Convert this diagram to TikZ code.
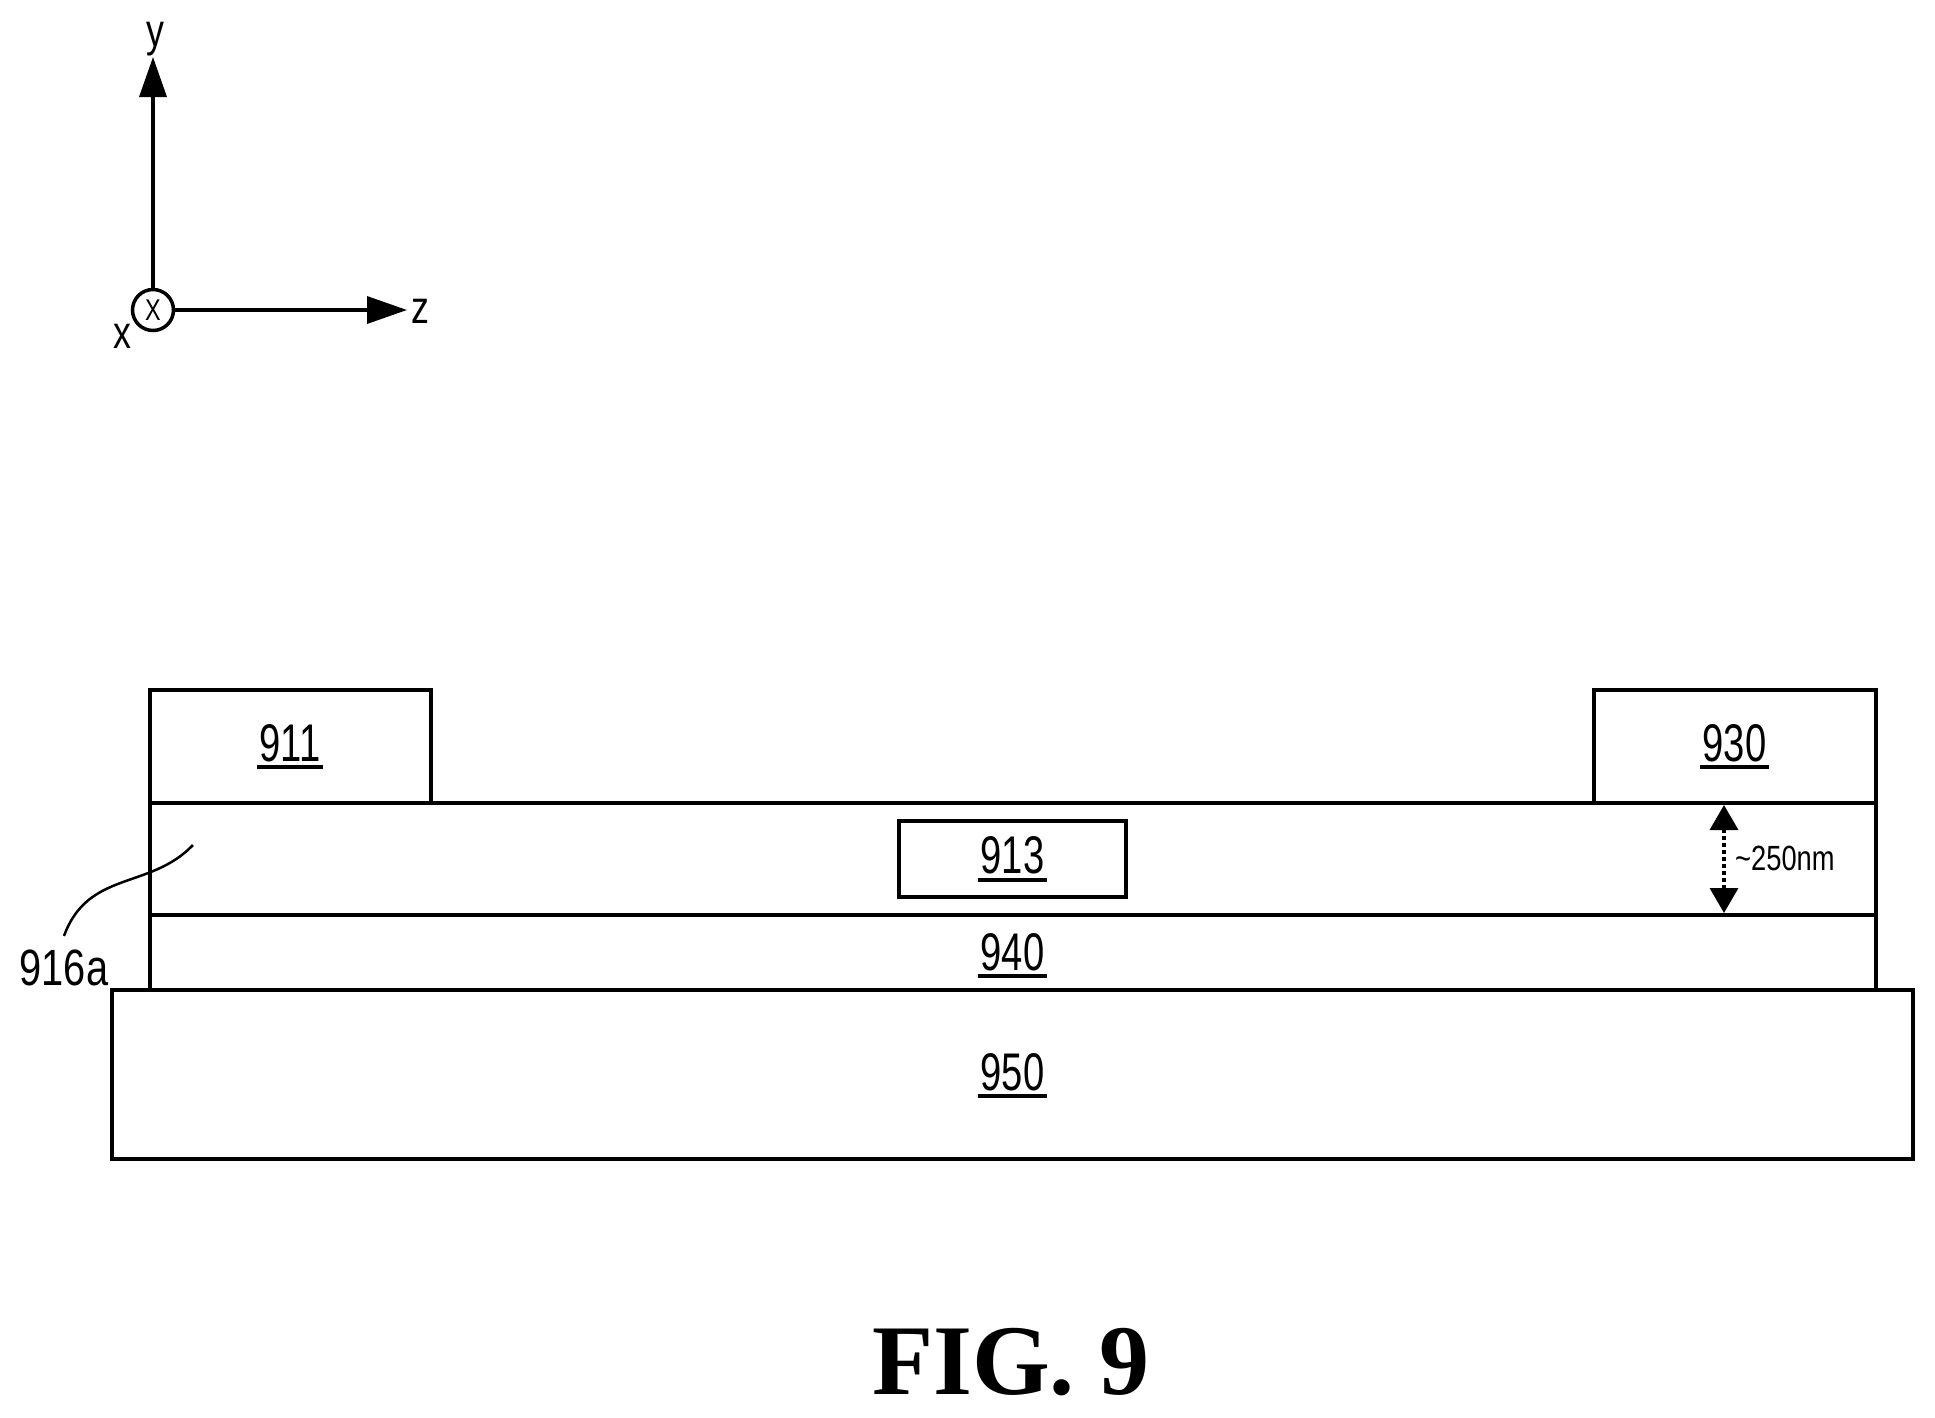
\documentclass[tikz,border=0pt]{standalone}
\usepackage{fontspec}
\usetikzlibrary{positioning,arrows.meta}
\newfontfamily\labelfont[FakeStretch=0.78]{Liberation Sans}
\newfontfamily\numfont[FakeStretch=0.72]{Liberation Sans}
\newfontfamily\figfont{Liberation Serif}
\newcommand{\ulnum}[1]{\vtop{\hbox{\kern2.5pt #1\kern2.5pt}\kern3.5pt\hrule height 4pt}}
\tikzset{
  layer/.style={draw,line width=4pt,inner sep=0pt,outer sep=0pt,font=\numfont\fontsize{53}{56}\selectfont},
  numtext/.style={inner sep=0pt,outer sep=0pt,font=\numfont\fontsize{53}{56}\selectfont},
  axislabel/.style={inner sep=0pt,outer sep=0pt,font=\labelfont\fontsize{46}{50}\selectfont},
  axisarrow/.style={line width=3.5pt,-{Triangle[length=40pt,width=27pt]}},
  dimarrow/.style={line width=3.5pt,dash pattern=on 4pt off 3pt,{Triangle[length=25pt,width=28pt]}-{Triangle[length=25pt,width=28pt]}}
}
\begin{document}
\begin{tikzpicture}[x=1pt,y=-1pt]
    \useasboundingbox (0,0) rectangle (1935,1417);
    \node[layer,minimum width=1801pt,minimum height=169pt](l_950) at (1012.5,1074.5){};
    \node[layer,minimum width=1726pt,minimum height=75pt][above=0pt of l_950](l_940){};
    \node[layer,minimum width=1726pt,minimum height=112pt][above=0pt of l_940](l_916){};
    \node[layer,minimum width=281pt,minimum height=113pt,anchor=south west](l_911) at (l_916.north west){\ulnum{911}};
    \node[layer,minimum width=282pt,minimum height=113pt,anchor=south east](l_930) at (l_916.north east){\ulnum{930}};
    \node[layer,minimum width=227pt,minimum height=76pt](l_913) at (l_916){\ulnum{913}};
    \node[numtext][below=18pt of l_916.south](lab_940){\ulnum{940}};
    \node[numtext][below=63pt of l_940.south](lab_950){\ulnum{950}};
    \node[circle,draw,line width=3.5pt,minimum size=41pt,inner sep=0pt,outer sep=0pt,font=\labelfont\fontsize{30}{32}\selectfont](c_x) at (153,310){X};
    \coordinate (y_tip) at (153,57);
    \coordinate (z_tip) at (407,310);
    \node[axislabel](lab_y) at (155,39){y};
    \node[axislabel](lab_z) at (420,311){z};
    \node[axislabel](lab_x) at (122,336){x};
    \node[inner sep=0pt,font=\labelfont\fontsize{51}{54}\selectfont](lab_916a) at (64,968){916a};
    \coordinate (lead_a) at (64,936);
    \coordinate (lead_b) at (193,845);
    \coordinate (dim_top) at (1724,805);
    \coordinate (dim_bot) at (1724,913);
    \node[inner sep=0pt,anchor=west,font=\labelfont\fontsize{35}{38}\selectfont](lab_dim) at (1735,858){\textasciitilde 250nm};
    \node[inner sep=0pt,font=\figfont\bfseries\fontsize{100}{104}\selectfont](lab_fig) at (1011,1362){FIG. 9};
    \draw[axisarrow] (c_x) -- (y_tip);
    \draw[axisarrow] (c_x) -- (z_tip);
    \draw[dimarrow] (dim_top) -- (dim_bot);
    \draw[line width=2.5pt] (lead_a) .. controls (88,870) and (150,890) .. (lead_b);
\end{tikzpicture}
\end{document}
